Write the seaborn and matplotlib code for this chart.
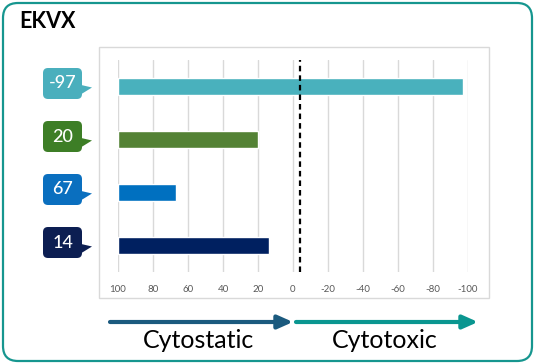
import numpy as np
import pandas as pd
import matplotlib
matplotlib.use("Agg")
import matplotlib.pyplot as plt
from matplotlib.patches import FancyBboxPatch, Polygon, Rectangle
import seaborn as sns

# data
title = "EKVX"
rows = ["r1", "r2", "r3", "r4"]
values = [-97, 20, 67, 14]
bar_colors = ["#49b1bd", "#548235", "#0070c0", "#002060"]
label_colors = ["#4aafbd", "#3d7e26", "#0a6fbf", "#0c1e52"]
ref_line = -4
tick_values = [100, 80, 60, 40, 20, 0, -20, -40, -60, -80, -100]
left_label = "Cytostatic"
right_label = "Cytotoxic"

sns.set_style("white")
plt.rcParams["font.family"] = ["Lato", "DejaVu Sans"]

W, H = 535, 364
fig = plt.figure(figsize=(W / 100, H / 100), dpi=100)

# outer rounded border
fig.patches.append(FancyBboxPatch((3 / 100, 3 / 100), (W - 6) / 100, (H - 6) / 100,
                                  boxstyle="round,pad=0,rounding_size=0.15",
                                  transform=fig.dpi_scale_trans, fill=False,
                                  ec="#16968f", lw=1.6))
# chart area frame
fig.patches.append(Rectangle((99 / 100, (H - 298) / 100), 390 / 100, 251 / 100,
                             transform=fig.dpi_scale_trans, fill=False,
                             ec="#d9d9d9", lw=1))

fig.text(19 / W, 1 - 22 / H, title, fontsize=15.5, fontweight="bold",
         ha="left", va="center", color="black")

ax = fig.add_axes([118 / W, (H - 272) / H, 350 / W, 212 / H])

# bars start at 100, so plot length from 100 on an axis that runs 100 -> -100
df = pd.DataFrame({"row": rows, "length": [100 - v for v in values]})
sns.barplot(data=df, x="length", y="row", hue="row", palette=bar_colors,
            orient="h", width=0.31, legend=False, ax=ax, saturation=1)

ax.set_xlim(0, 200)
ax.set_ylim(3.5, -0.5)
ax.set_xticks([100 - t for t in tick_values])
ax.set_xticklabels([str(t) for t in tick_values], color="#595959", fontsize=7)
ax.tick_params(axis="x", length=0, pad=9)
ax.set_yticks([])
ax.set_xlabel("")
ax.set_ylabel("")
for s in ax.spines.values():
    s.set_visible(False)
ax.grid(axis="x", color="#d9d9d9", lw=1)
ax.set_axisbelow(True)
ax.axvline(100 - ref_line, color="black", lw=1.6, ls=(0, (2.5, 1.8)))

# callout labels
for i, (v, c) in enumerate(zip(values, label_colors)):
    _, yc = ax.transData.transform((0, i))
    yb = yc + 3
    fig.patches.append(FancyBboxPatch((43 / 100, (yb - 15.5) / 100), 39 / 100, 31 / 100,
                                      boxstyle="round,pad=0,rounding_size=0.05",
                                      transform=fig.dpi_scale_trans, fc=c, ec="none"))
    fig.patches.append(Polygon([(79 / 100, (yc + 2) / 100), (92 / 100, (yc - 1) / 100),
                                (79 / 100, (yc - 9) / 100)],
                               transform=fig.dpi_scale_trans, fc=c, ec="none"))
    fig.text(62.5 / W, yb / H, str(v), color="white", fontsize=13,
             fontweight="medium", ha="center", va="center")

# arrows
ay = H - 322
ax.annotate("", xy=(293, ay), xytext=(110, ay), xycoords="figure pixels",
            textcoords="figure pixels", annotation_clip=False,
            arrowprops=dict(arrowstyle="-|>,head_length=0.9,head_width=0.4",
                            color="#1b5a7e", lw=3, shrinkA=0, shrinkB=0))
ax.annotate("", xy=(478, ay), xytext=(296, ay), xycoords="figure pixels",
            textcoords="figure pixels", annotation_clip=False,
            arrowprops=dict(arrowstyle="-|>,head_length=0.9,head_width=0.4",
                            color="#0a9690", lw=3, shrinkA=0, shrinkB=0))
fig.text(199 / W, 1 - 341 / H, left_label, fontsize=18, ha="center", va="center",
         color="black")
fig.text(385 / W, 1 - 341 / H, right_label, fontsize=18, ha="center", va="center",
         color="black")

fig.savefig("out.png", dpi=100)
